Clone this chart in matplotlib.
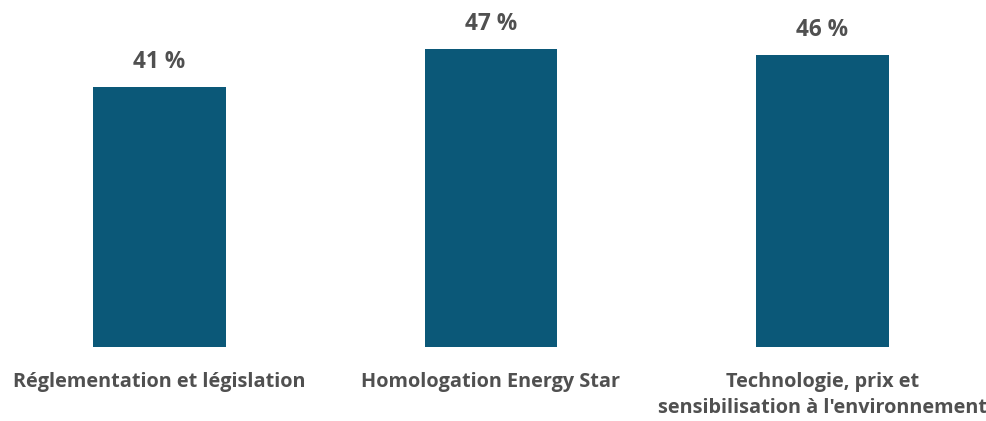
import matplotlib
matplotlib.use('Agg')
import matplotlib.pyplot as plt

# data
categories = ['Réglementation et législation', 'Homologation Energy Star',
              "Technologie, prix et\nsensibilisation à l'environnement"]
values = [41, 47, 46]

bar_color = '#0B5878'
text_color = '#505050'

plt.rcParams['font.family'] = ['Open Sans', 'DejaVu Sans']

fig = plt.figure(figsize=(9.87, 4.21), dpi=100)
ax = fig.add_axes([0, 74 / 421, 1, 1 - 74 / 421])

x = list(range(len(categories)))
bars = ax.bar(x, values, width=0.4, color=bar_color)

# x range chosen so bar centres land where they are in the reference
ax.set_xlim(-159.5 / 331.5, (987 - 159.5) / 331.5)
ax.set_ylim(0, 347 / 6.34)

for b, v in zip(bars, values):
    ax.annotate(f'{v} %', (b.get_x() + b.get_width() / 2, v),
                xytext=(0, 14), textcoords='offset points',
                ha='center', va='baseline', fontsize=16.3, fontweight='bold',
                color=text_color)

ax.set_xticks(x)
ax.set_xticklabels(categories, fontsize=14.3, fontweight='bold', color=text_color,
                   linespacing=1.4)
ax.tick_params(axis='x', length=0, pad=18)
ax.set_yticks([])
for s in ax.spines.values():
    s.set_visible(False)

fig.savefig('out.png', dpi=100)
